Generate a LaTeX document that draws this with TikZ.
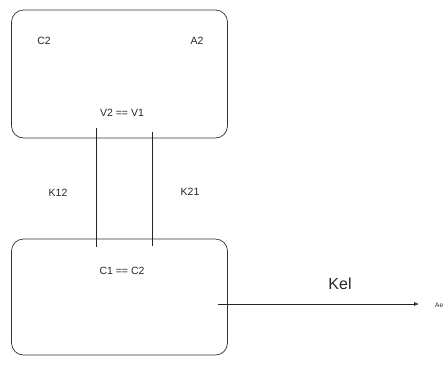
\documentclass[tikz,border=0pt]{standalone}
\usepackage{fontspec}
\setmainfont{Liberation Sans}
\usetikzlibrary{arrows.meta}
\begin{document}
\begin{tikzpicture}[x=1pt,y=-1pt,
  box/.style={draw=black!80, line width=0.7pt, rounded corners=12pt, minimum width=216pt, inner sep=0pt},
  lbl/.style={inner sep=0pt, font=\fontsize{10.5}{12}\selectfont, text=black!85},
  conn/.style={draw=black!85, line width=0.7pt}]
\useasboundingbox (0,0) rectangle (444,365);
\node[box, minimum height=128pt] (top) at (119.5,74) {};
\node[box, minimum height=116pt] (bot) at (119.5,297) {};
\node[lbl] (c2) at (44,41) {C2};
\node[lbl] (a2) at (197,41) {A2};
\node[lbl] (v) at (122,113) {V2 == V1};
\node[lbl] (k12) at (58,193) {K12};
\node[lbl] (k21) at (190,192) {K21};
\node[lbl] (c1) at (122,271) {C1 == C2};
\node[inner sep=0pt, font=\fontsize{16}{18}\selectfont, text=black!85] (kel) at (340,284) {Kel};
\node[inner sep=0pt, anchor=west, font=\fontsize{6.5}{8}\selectfont, text=black!85] (ae) at (435,305) {Ae};
\draw[conn] ([xshift=-23.5pt,yshift=10pt]top.south) -- ([xshift=-23.5pt,yshift=-8pt]bot.north);
\draw[conn] ([xshift=33pt,yshift=6pt]top.south) -- ([xshift=33pt,yshift=-7pt]bot.north);
\draw[conn,-{Latex[length=5pt,width=4pt]}] ([xshift=-10pt,yshift=-7pt]bot.east) -- ([xshift=-16pt]ae.west |- 0,304);
\end{tikzpicture}
\end{document}
